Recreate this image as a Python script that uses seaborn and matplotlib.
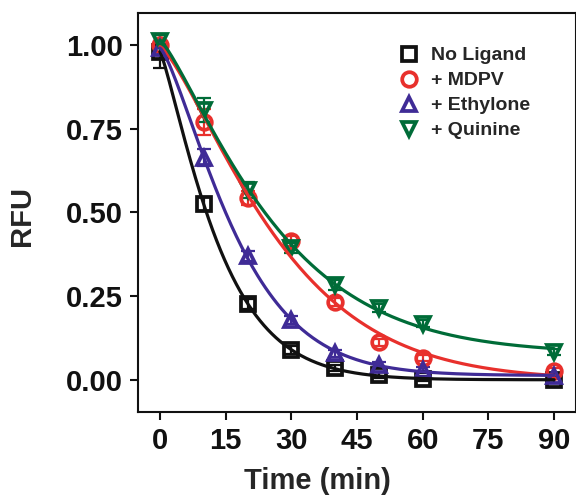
import numpy as np
import pandas as pd
import matplotlib
matplotlib.use("Agg")
import matplotlib.pyplot as plt
import seaborn as sns

# Fluorescence decay (RFU) over time for each condition
time_min = [0, 10, 20, 30, 40, 50, 60, 90]
no_ligand = [0.98, 0.525, 0.227, 0.090, 0.036, 0.015, 0.004, 0.000]
mdpv = [1.00, 0.770, 0.543, 0.415, 0.233, 0.113, 0.066, 0.026]
ethylone = [0.99, 0.663, 0.370, 0.180, 0.080, 0.045, 0.030, 0.012]
quinine = [1.01, 0.805, 0.567, 0.395, 0.284, 0.215, 0.168, 0.084]

# Standard errors
err_no_ligand = [0.05, 0.02, 0.015, 0.012, 0.01, 0.01, 0.008, 0.008]
err_mdpv = [0.03, 0.04, 0.02, 0.015, 0.012, 0.01, 0.01, 0.01]
err_ethylone = [0.02, 0.025, 0.015, 0.012, 0.01, 0.01, 0.01, 0.01]
err_quinine = [0.02, 0.035, 0.025, 0.015, 0.015, 0.012, 0.01, 0.01]

labels = ["No Ligand", "+ MDPV", "+ Ethylone", "+ Quinine"]
colors = ["#111111", "#e8302c", "#3f2b96", "#006c38"]
markers = ["s", "o", "^", "v"]

series = [no_ligand, mdpv, ethylone, quinine]
errors = [err_no_ligand, err_mdpv, err_ethylone, err_quinine]

df = pd.DataFrame({
    "Time": np.tile(time_min, len(labels)),
    "RFU": np.concatenate(series),
    "err": np.concatenate(errors),
    "Condition": np.repeat(labels, len(time_min)),
})


def fit_decay(t, y):
    """Stretched-exponential fit y = A*exp(-(k t)^b) + c with c >= 0."""
    t = np.asarray(t, float)
    y = np.asarray(y, float)
    best = None
    for b in np.linspace(1.0, 1.8, 41):
        for k in np.linspace(0.005, 0.2, 400):
            e = np.exp(-(k * t) ** b)
            X = np.column_stack([e, np.ones_like(t)])
            coef, *_ = np.linalg.lstsq(X, y, rcond=None)
            if coef[1] < 0:
                A = float(e @ y / (e @ e))
                coef = np.array([A, 0.0])
            sse = np.sum((X @ coef - y) ** 2)
            if best is None or sse < best[0]:
                best = (sse, k, b, coef)
    _, k, b, (A, c) = best
    return lambda tt: A * np.exp(-(k * tt) ** b) + c


t_fine = np.linspace(0, 90, 300)
fit_rows = []
for lab, ys in zip(labels, series):
    f = fit_decay(time_min, ys)
    fit_rows.append(pd.DataFrame({"Time": t_fine, "RFU": f(t_fine), "Condition": lab}))
fits = pd.concat(fit_rows, ignore_index=True)

sns.set_style("ticks")
plt.rcParams["font.family"] = ["Liberation Sans", "DejaVu Sans"]
plt.rcParams["font.weight"] = "bold"

fig = plt.figure(figsize=(5.76, 4.99), dpi=100)
ax = fig.add_axes([138 / 576, 87 / 499, 438 / 576, 399 / 499])

palette = dict(zip(labels, colors))

# error bars
for lab, col in zip(labels, colors):
    sub = df[df["Condition"] == lab]
    ax.errorbar(sub["Time"], sub["RFU"], yerr=sub["err"], fmt="none",
                ecolor=col, elinewidth=1.6, capsize=5, capthick=1.6, zorder=2)

# open markers for measurements
for lab, col, m in zip(labels, colors, markers):
    sub = df[df["Condition"] == lab]
    ax.plot(sub["Time"], sub["RFU"], linestyle="none", marker=m, markersize=10.5,
            markerfacecolor="none", markeredgecolor=col, markeredgewidth=2.7,
            label=lab, zorder=3)

# fitted decay curves
sns.lineplot(data=fits, x="Time", y="RFU", hue="Condition", palette=palette,
             linewidth=2.3, legend=False, ax=ax, zorder=4)

ax.set_xlim(-5, 95)
ax.set_ylim(-0.095, 1.095)
ax.set_xticks([0, 15, 30, 45, 60, 75, 90])
ax.set_yticks([0, 0.25, 0.5, 0.75, 1.0])
ax.set_yticklabels(["0.00", "0.25", "0.50", "0.75", "1.00"])

for s in ax.spines.values():
    s.set_linewidth(1.5)
    s.set_color("#111111")
ax.tick_params(axis="both", direction="out", length=6, width=1.5,
               labelsize=21, colors="#111111", pad=5)
for lbl in ax.get_xticklabels() + ax.get_yticklabels():
    lbl.set_fontweight("bold")

ax.set_xlabel("Time (min)", fontsize=21, fontweight="bold")
ax.xaxis.set_label_coords(0.409, -0.138)
ax.set_ylabel("RFU", fontsize=21, fontweight="bold")
ax.yaxis.set_label_coords(-0.232, 0.49)

leg = ax.legend(loc="upper left", bbox_to_anchor=(0.575, 0.935), frameon=False,
                prop={"size": 14, "weight": "bold"}, handletextpad=0.5,
                labelspacing=0.38, handlelength=1.2, borderaxespad=0.0)

fig.savefig("out.png", dpi=100)
